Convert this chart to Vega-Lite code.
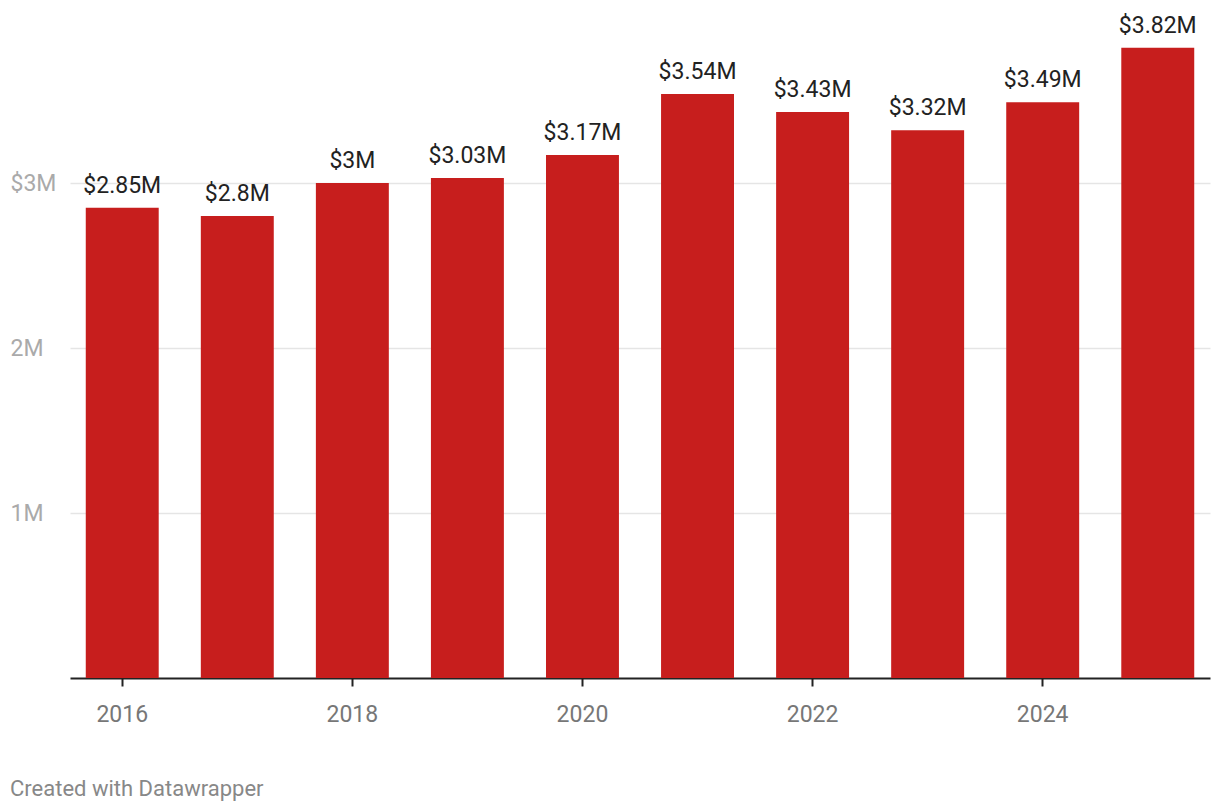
{
  "$schema": "https://vega.github.io/schema/vega-lite/v6.json",
  "width": 1140,
  "height": 648,
  "autosize": {"type": "none"},
  "padding": {"left": 70, "top": 30, "right": 10, "bottom": 132},
  "background": "white",
  "config": {"font": "Roboto", "view": {"stroke": null}},
  "title": {
    "text": "Created with Datawrapper",
    "orient": "bottom",
    "anchor": "start",
    "frame": "bounds",
    "offset": 53,
    "fontSize": 22,
    "fontWeight": "normal",
    "color": "#888888",
    "font": "Roboto"
  },
  "data": {
    "values": [
      {"Year": "2016", "Value": 2850000},
      {"Year": "2017", "Value": 2800000},
      {"Year": "2018", "Value": 3000000},
      {"Year": "2019", "Value": 3030000},
      {"Year": "2020", "Value": 3170000},
      {"Year": "2021", "Value": 3540000},
      {"Year": "2022", "Value": 3430000},
      {"Year": "2023", "Value": 3320000},
      {"Year": "2024", "Value": 3490000},
      {"Year": "2025", "Value": 3820000}
    ]
  },
  "encoding": {
    "x": {
      "field": "Year",
      "type": "ordinal",
      "scale": {"paddingInner": 0.366, "paddingOuter": 0.137},
      "axis": {
        "title": null,
        "values": ["2016", "2018", "2020", "2022", "2024"],
        "labelAngle": 0,
        "labelFontSize": 23,
        "labelColor": "#777777",
        "labelPadding": 17,
        "tickSize": 8,
        "tickWidth": 2,
        "tickColor": "#222222",
        "domainColor": "#222222",
        "domainWidth": 2,
        "grid": false
      }
    },
    "y": {
      "field": "Value",
      "type": "quantitative",
      "scale": {"domain": [0, 3927273], "nice": false, "zero": true},
      "axis": {
        "title": null,
        "values": [1000000, 2000000, 3000000],
        "labelExpr": "datum.value == 3000000 ? '$3M' : format(datum.value / 1000000, 'd') + 'M'",
        "labelAlign": "left",
        "labelPadding": 60,
        "labelFontSize": 23,
        "labelColor": "#aaaaaa",
        "ticks": false,
        "domain": false,
        "grid": true,
        "gridColor": "#e5e5e5",
        "gridWidth": 1.5,
        "zindex": 0
      }
    }
  },
  "layer": [
    {"mark": {"type": "bar", "color": "#c71e1d"}},
    {
      "mark": {"type": "text", "baseline": "alphabetic", "dy": -15, "fontSize": 23, "color": "#222222", "font": "Roboto"},
      "encoding": {"text": {"field": "Value", "type": "quantitative", "format": "$.3~s"}}
    }
  ]
}
